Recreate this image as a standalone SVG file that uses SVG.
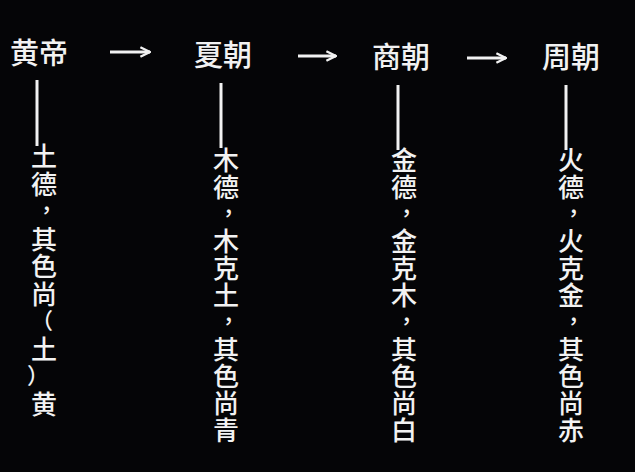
<svg xmlns="http://www.w3.org/2000/svg" width="635" height="472" viewBox="0 0 635 472">
<style>
text{fill:#f2f2f2;font-family:"Noto Sans CJK SC","Liberation Sans",sans-serif;font-size:26px;font-weight:500;text-anchor:middle}
.t{font-size:29px}
.c{font-size:22px}
.l{stroke:#f2f2f2;stroke-width:3;fill:none}
</style>
<defs><marker id="a" viewBox="0 0 10 10" refX="9" refY="5" markerWidth="4" markerHeight="4" orient="auto"><path d="M1 1L9 5L1 9" fill="none" stroke="#f2f2f2" stroke-width="2"/></marker></defs>
<rect width="635" height="472" fill="#050507"/>
<g id="connectors">
<path class="l" d="M110 52H150" marker-end="url(#a)"/>
<path class="l" d="M298 56H336" marker-end="url(#a)"/>
<path class="l" d="M467 58H506" marker-end="url(#a)"/>
<path class="l" d="M37 80V146"/>
<path class="l" d="M221 83V148"/>
<path class="l" d="M398 85V150"/>
<path class="l" d="M566 85V150"/>
</g>
<g id="huangdi"><text class="t" x="39" y="64">黄帝</text>
<g transform="translate(44,166)"><text y="0">土</text><text y="27.5">德</text><text class="c" x="8" y="45">，</text><text y="82.5">其</text><text y="110">色</text><text y="137.5">尚</text><text class="c" x="-2" y="162">（</text><text y="192.5">土</text><text class="c" x="-6" y="217">）</text><text y="247.5">黄</text></g></g>
<g id="xia"><text class="t" x="223" y="66">夏朝</text>
<g transform="translate(226,170)"><text y="0">木</text><text y="27">德</text><text class="c" x="8" y="44">，</text><text y="81">木</text><text y="108">克</text><text y="135">土</text><text class="c" x="8" y="152">，</text><text y="189">其</text><text y="216">色</text><text y="243">尚</text><text y="270">青</text></g></g>
<g id="shang"><text class="t" x="401" y="68">商朝</text>
<g transform="translate(404,170)"><text y="0">金</text><text y="27">德</text><text class="c" x="8" y="44">，</text><text y="81">金</text><text y="108">克</text><text y="135">木</text><text class="c" x="8" y="152">，</text><text y="189">其</text><text y="216">色</text><text y="243">尚</text><text y="270">白</text></g></g>
<g id="zhou"><text class="t" x="571" y="68">周朝</text>
<g transform="translate(571,170)"><text y="0">火</text><text y="27">德</text><text class="c" x="8" y="44">，</text><text y="81">火</text><text y="108">克</text><text y="135">金</text><text class="c" x="8" y="152">，</text><text y="189">其</text><text y="216">色</text><text y="243">尚</text><text y="270">赤</text></g></g>
</svg>
